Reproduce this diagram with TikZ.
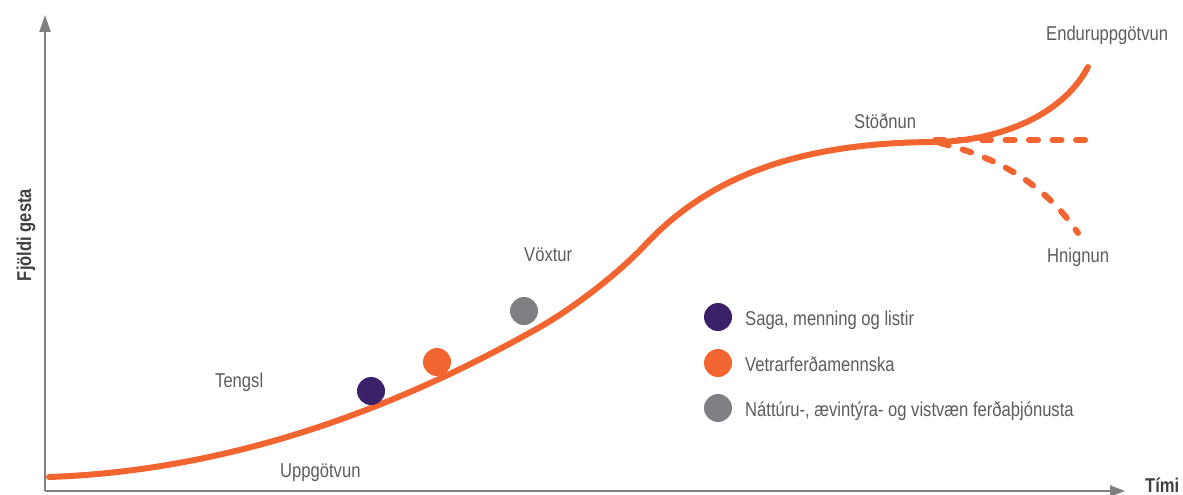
\documentclass[tikz,border=0pt]{standalone}
\usepackage{fontspec}
\setmainfont{Liberation Sans}[FakeStretch=0.83]
\usetikzlibrary{arrows.meta}
\definecolor{lifeorange}{HTML}{F26531}
\definecolor{lifepurple}{HTML}{3B2268}
\definecolor{lifegray}{HTML}{808084}
\definecolor{axisgray}{HTML}{7F7F7F}
\definecolor{textgray}{HTML}{5C5C5C}
\begin{document}
\begin{tikzpicture}[x=1pt,y=-1pt,
every node/.style = {inner sep=0pt, font=\fontsize{20}{24}\selectfont, text=textgray},
stage/.style = {anchor=base west},
axislabel/.style = {font=\fontsize{20}{24}\selectfont\bfseries, text=black!75},
dot/.style = {circle, minimum size=28pt},
curve/.style = {draw=lifeorange, line width=6pt, line cap=round},
scenario/.style = {curve, dash pattern=on 9pt off 14.5pt}]
\useasboundingbox (0,0) rectangle (1183,495);
% axes
\coordinate (origin) at (45,491);
\coordinate (ytop) at (45,15);
\coordinate (xend) at (1125,491);
\draw[axisgray, line width=2pt, -{Triangle[length=17pt,width=11pt]}] (origin) -- (ytop);
\draw[axisgray, line width=2pt, -{Triangle[length=15pt,width=11pt]}] (origin) -- (xend);
\node[axislabel, anchor=base west] (time) at (1145,492) {Tími};
\node[axislabel, rotate=90, anchor=base] (guests) at (31,235) {Fjöldi gesta};
% life cycle
\coordinate (start) at (49,477);
\coordinate (plateau) at (933,142);
\draw[curve] (start) .. controls (250,470) and (420,395) .. (540,327)
  .. controls (575,307) and (620,272) .. (645,245)
  .. controls (705,181) and (790,143) .. (plateau)
  .. controls (990,142) and (1060,120) .. (1088,67);
\draw[scenario] (935,140) -- (1085,140);
\draw[scenario] (940,143) .. controls (1000,158) and (1045,185) .. (1078,233);
% stages
\node[stage] (discovery) at (280,477) {Uppgötvun};
\node[stage] (involvement) at (215,387) {Tengsl};
\node[stage] (growth) at (524,261) {Vöxtur};
\node[stage] (stagnation) at (854,128) {Stöðnun};
\node[stage] (rejuvenation) at (1046,41) {Enduruppgötvun};
\node[stage] (decline) at (1047,262) {Hnignun};
% dots on the curve
\node[dot, fill=lifepurple] (culture) at (371,391) {};
\node[dot, fill=lifeorange] (winter) at (437,362) {};
\node[dot, fill=lifegray] (nature) at (524,311) {};
% legend
\node[dot, fill=lifepurple] (keyculture) at (718,317) {};
\node[dot, fill=lifeorange] (keywinter) at (718,363) {};
\node[dot, fill=lifegray] (keynature) at (718,408) {};
\node[stage] at (745,325) {Saga, menning og listir};
\node[stage] at (745,371) {Vetrarferðamennska};
\node[stage] at (745,416) {Náttúru-, ævintýra- og vistvæn ferðaþjónusta};
\end{tikzpicture}
\end{document}
